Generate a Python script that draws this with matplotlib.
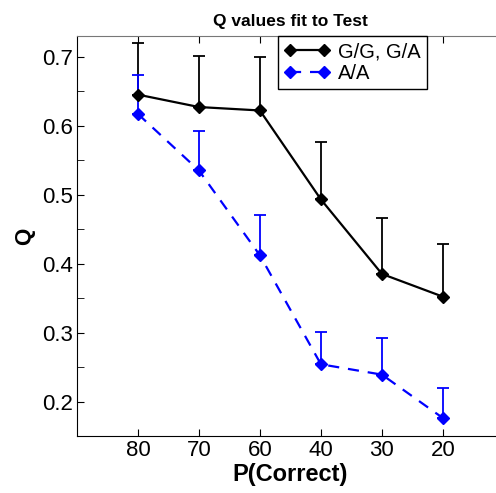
import numpy as np
import matplotlib.pyplot as plt
from matplotlib.lines import Line2D

plt.rcParams['font.family'] = ['Liberation Sans', 'DejaVu Sans']

x_labels = ["80", "70", "60", "40", "30", "20"]
gg_q = [0.645, 0.627, 0.622, 0.493, 0.385, 0.352]
gg_err = [0.075, 0.074, 0.077, 0.084, 0.081, 0.076]
aa_q = [0.617, 0.535, 0.412, 0.254, 0.239, 0.176]
aa_err = [0.057, 0.057, 0.059, 0.047, 0.053, 0.043]

x = np.arange(1, len(x_labels) + 1)
dash = (0, (5, 4))

fig = plt.figure(figsize=(4.96, 4.93), dpi=100)
ax = fig.add_axes([0.155, 0.1156, 0.861, 0.8114])

ax.errorbar(x, gg_q, yerr=[np.zeros(len(gg_err)), gg_err], color="black",
            linestyle="-", linewidth=1.6, marker="D", markersize=6,
            capsize=4.5, elinewidth=1.3, capthick=1.3)
ax.errorbar(x, aa_q, yerr=[np.zeros(len(aa_err)), aa_err], color="blue",
            linestyle=dash, linewidth=1.6, marker="D", markersize=6,
            capsize=4.5, elinewidth=1.3, capthick=1.3)

ax.set_xlim(0, 7)
ax.set_ylim(0.15, 0.73)
ax.set_xticks(x)
ax.set_xticklabels(x_labels)
ax.set_yticks([0.2, 0.3, 0.4, 0.5, 0.6, 0.7])
ax.set_yticks(np.arange(0.2, 0.71, 0.05), minor=True)
ax.tick_params(axis="both", which="both", direction="in", top=True,
               labelsize=16, length=5, pad=3)
ax.spines["top"].set_color("#777777")
ax.spines["right"].set_visible(False)

ax.set_title("Q values fit to Test", fontsize=12.5, fontweight="bold", pad=7)
ax.set_xlabel("P(Correct)", fontsize=17, fontweight="bold", labelpad=1)
ax.set_ylabel("Q", fontsize=16, fontweight="bold", labelpad=5)

handles = [
    Line2D([], [], color="black", linestyle="-", linewidth=1.6,
           marker="D", markersize=6),
    Line2D([], [], color="blue", linestyle=dash, linewidth=1.6,
           marker="D", markersize=6),
]
leg = ax.legend(handles, ["G/G, G/A", "A/A"], loc="upper left",
                bbox_to_anchor=(278 / 496, 1 - 36 / 493),
                bbox_transform=fig.transFigure, fontsize=14.5, fancybox=False,
                edgecolor="black", framealpha=1, borderpad=0.3,
                numpoints=2, handlelength=2.3, handletextpad=0.4,
                labelspacing=0.15, borderaxespad=0)
leg.get_frame().set_linewidth(1.0)

fig.savefig("out.png", dpi=100)
